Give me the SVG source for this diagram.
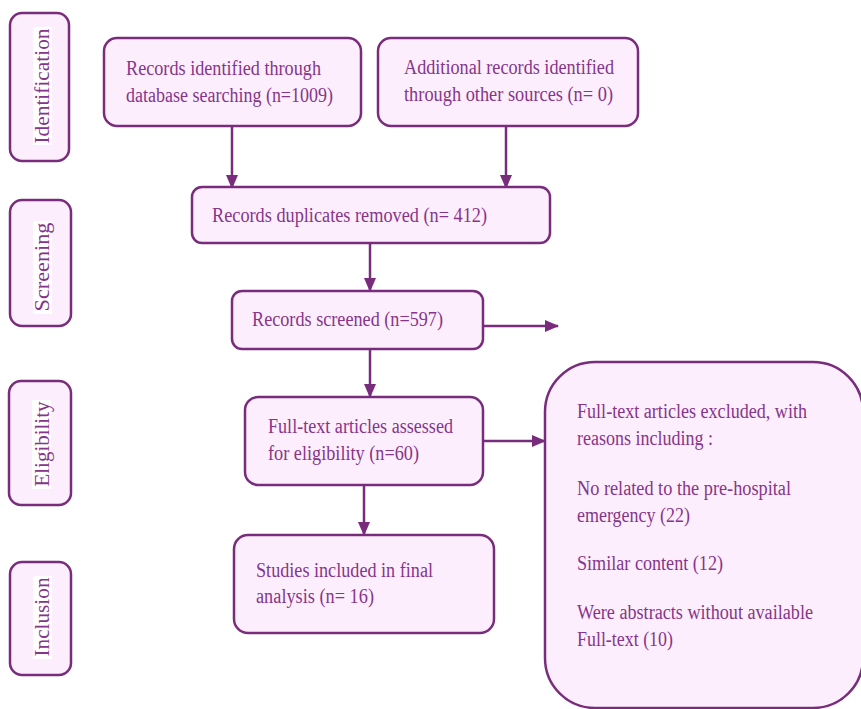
<svg xmlns="http://www.w3.org/2000/svg" width="861" height="709" viewBox="0 0 861 709">
<style>
.box{fill:#fdeefd;stroke:#7a2c7c;stroke-width:2.5}
.lbl{fill:#ffffff}
text{font-family:"Liberation Serif","Times New Roman",serif;fill:#86358a;font-size:20px}
.side{font-size:20px;text-anchor:middle}
.conn{stroke:#7a2c7c;stroke-width:2.5;fill:none;marker-end:url(#ah)}
</style>
<defs>
<marker id="ah" viewBox="0 0 14 12" refX="13" refY="6" markerWidth="14" markerHeight="12" markerUnits="userSpaceOnUse" orient="auto">
<path d="M0,0 L14,6 L0,12 z" fill="#7a2c7c"/>
</marker>
</defs>
<rect width="861" height="709" fill="#ffffff"/>
<g id="stage-identification">
<rect class="box" x="10" y="13" width="59" height="148" rx="12"/>
<rect class="lbl" x="33" y="27" width="19" height="118"/>
<text class="side" transform="translate(49,86) rotate(-90)" textLength="115" lengthAdjust="spacingAndGlyphs">Identification</text>
</g>
<g id="stage-screening">
<rect class="box" x="10" y="200" width="61" height="126" rx="12"/>
<rect class="lbl" x="33" y="221" width="19" height="93"/>
<text class="side" transform="translate(49,267) rotate(-90)" textLength="89" lengthAdjust="spacingAndGlyphs">Screening</text>
</g>
<g id="stage-eligibility">
<rect class="box" x="9" y="381" width="62" height="124" rx="12"/>
<rect class="lbl" x="32" y="400" width="19" height="89"/>
<text class="side" transform="translate(49,444) rotate(-90)" textLength="85" lengthAdjust="spacingAndGlyphs">Eligibility</text>
</g>
<g id="stage-inclusion">
<rect class="box" x="10" y="562" width="61" height="113" rx="12"/>
<rect class="lbl" x="33" y="576" width="19" height="83"/>
<text class="side" transform="translate(49,617) rotate(-90)" textLength="79" lengthAdjust="spacingAndGlyphs">Inclusion</text>
</g>
<g id="connectors">
<line class="conn" x1="232" y1="126" x2="232" y2="188"/>
<line class="conn" x1="506" y1="126" x2="506" y2="188"/>
<line class="conn" x1="370" y1="243" x2="370" y2="291"/>
<line class="conn" x1="483" y1="326" x2="558" y2="326"/>
<line class="conn" x1="370" y1="349" x2="370" y2="397"/>
<line class="conn" x1="483" y1="441" x2="545" y2="441"/>
<line class="conn" x1="364" y1="485" x2="364" y2="535"/>
</g>
<g id="node-database">
<rect class="box" x="104" y="38" width="257" height="88" rx="13"/>
<text x="126" y="75" textLength="195" lengthAdjust="spacingAndGlyphs">Records identified through</text>
<text x="126" y="102" textLength="207" lengthAdjust="spacingAndGlyphs">database searching (n=1009)</text>
</g>
<g id="node-other">
<rect class="box" x="378" y="38" width="260" height="88" rx="13"/>
<text x="404" y="74" textLength="210" lengthAdjust="spacingAndGlyphs">Additional records identified</text>
<text x="404" y="101" textLength="209" lengthAdjust="spacingAndGlyphs">through other sources (n= 0)</text>
</g>
<g id="node-duplicates">
<rect class="box" x="192" y="187" width="358" height="56" rx="10"/>
<text x="212" y="222" textLength="275" lengthAdjust="spacingAndGlyphs">Records duplicates removed (n= 412)</text>
</g>
<g id="node-screened">
<rect class="box" x="232" y="291" width="251" height="58" rx="10"/>
<text x="252" y="326" textLength="191" lengthAdjust="spacingAndGlyphs">Records screened (n=597)</text>
</g>
<g id="node-fulltext">
<rect class="box" x="245" y="397" width="238" height="88" rx="13"/>
<text x="268" y="433" textLength="185" lengthAdjust="spacingAndGlyphs">Full-text articles assessed</text>
<text x="268" y="460" textLength="151" lengthAdjust="spacingAndGlyphs">for eligibility (n=60)</text>
</g>
<g id="node-included">
<rect class="box" x="234" y="535" width="260" height="98" rx="14"/>
<text x="256" y="577" textLength="177" lengthAdjust="spacingAndGlyphs">Studies included in final</text>
<text x="256" y="603" textLength="118" lengthAdjust="spacingAndGlyphs">analysis (n= 16)</text>
</g>
<g id="node-excluded">
<rect class="box" x="545" y="362" width="318" height="346" rx="50"/>
<text x="577" y="418" textLength="230" lengthAdjust="spacingAndGlyphs">Full-text articles excluded, with</text>
<text x="577" y="445" textLength="136" lengthAdjust="spacingAndGlyphs">reasons including :</text>
<text x="577" y="495" textLength="214" lengthAdjust="spacingAndGlyphs">No related to the pre-hospital</text>
<text x="577" y="522" textLength="113" lengthAdjust="spacingAndGlyphs">emergency (22)</text>
<text x="577" y="570" textLength="146" lengthAdjust="spacingAndGlyphs">Similar content (12)</text>
<text x="577" y="619" textLength="236" lengthAdjust="spacingAndGlyphs">Were abstracts without available</text>
<text x="577" y="646" textLength="96" lengthAdjust="spacingAndGlyphs">Full-text (10)</text>
</g>
</svg>
